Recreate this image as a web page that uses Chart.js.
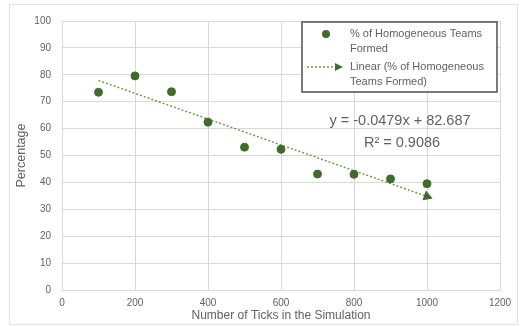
<!DOCTYPE html>
<html>
<head>
<meta charset="utf-8">
<script src="https://cdn.jsdelivr.net/npm/chart.js@4/dist/chart.umd.min.js"></script>
<style>
  html, body { margin: 0; padding: 0; background: #fff; }
  #box { position: relative; width: 520px; height: 326px; }
</style>
</head>
<body>
<div id="box"><canvas id="ticksChart" width="520" height="326"></canvas></div>
<script>
// ---- data ----
const ticks = [100, 200, 300, 400, 500, 600, 700, 800, 900, 1000];           // simulation length
const homogeneousPct = [73.5, 79.6, 73.7, 62.4, 53.1, 52.3, 43.1, 43.0, 41.3, 39.5]; // % homogeneous teams
const trendSlope = -0.0479;
const trendIntercept = 82.687;
const trendR2 = 0.9086;
const trendRange = [100, 1000];                                               // x span of the fitted line
const xTickValues = [0, 200, 400, 600, 800, 1000, 1200];
const yTickValues = [0, 10, 20, 30, 40, 50, 60, 70, 80, 90, 100];

document.addEventListener("DOMContentLoaded", function () {
  const FONT = "'Liberation Sans', Arial, sans-serif";
  const TEXT = "#616161";
  const GRID = "#d9d9d9";
  const MARKER = "#406c2b";
  const TREND = "#6fa043";

  const trendPts = trendRange.map(x => ({ x, y: trendIntercept + trendSlope * x }));

  // arrowhead at the end of the trendline should follow the line direction
  const arrowAngle = (chart) => {
    const xs = chart.scales.x, ys = chart.scales.y;
    const dx = xs.getPixelForValue(trendPts[1].x) - xs.getPixelForValue(trendPts[0].x);
    const dy = ys.getPixelForValue(trendPts[1].y) - ys.getPixelForValue(trendPts[0].y);
    return 90 + Math.atan2(dy, dx) * 180 / Math.PI;
  };

  // frame, legend box and equation label
  const extras = {
    id: "extras",
    beforeDraw(chart) {
      const c = chart.ctx;
      c.save();
      c.strokeStyle = "#e2e2e2";
      c.lineWidth = 1;
      c.strokeRect(9.5, 4.5, 508, 320);
      c.restore();
    },
    afterDraw(chart) {
      const c = chart.ctx;
      c.save();

      // equation + R²
      c.fillStyle = TEXT;
      c.font = "14.5px " + FONT;
      c.textAlign = "center";
      c.textBaseline = "middle";
      const sign = trendIntercept < 0 ? "- " : "+ ";
      c.fillText("y = " + trendSlope + "x " + sign + Math.abs(trendIntercept), 400, 121);
      c.fillText("R² = " + trendR2, 402, 143);

      // legend box
      c.fillStyle = "#fff";
      c.fillRect(302, 22, 195, 70);
      c.strokeStyle = "#5a5a5a";
      c.lineWidth = 1.6;
      c.strokeRect(302, 22, 195, 70);

      c.beginPath();
      c.arc(326, 34, 4, 0, Math.PI * 2);
      c.fillStyle = MARKER;
      c.fill();

      c.beginPath();
      c.setLineDash([2, 2]);
      c.strokeStyle = TREND;
      c.lineWidth = 1.5;
      c.moveTo(307, 67);
      c.lineTo(336, 67);
      c.stroke();
      c.setLineDash([]);
      c.beginPath();
      c.moveTo(343, 67);
      c.lineTo(335, 63);
      c.lineTo(335, 71);
      c.closePath();
      c.fillStyle = MARKER;
      c.fill();

      c.fillStyle = TEXT;
      c.font = "11px " + FONT;
      c.textAlign = "left";
      c.fillText("% of Homogeneous Teams", 350, 34);
      c.fillText("Formed", 350, 49);
      c.fillText("Linear (% of Homogeneous", 350, 67);
      c.fillText("Teams Formed)", 350, 82);
      c.restore();
    }
  };

  const ctx = document.getElementById("ticksChart").getContext("2d");
  const chart = new Chart(ctx, {
    type: "scatter",
    data: {
      datasets: [
        {
          label: "% of Homogeneous Teams Formed",
          data: ticks.map((x, i) => ({ x, y: homogeneousPct[i] })),
          backgroundColor: MARKER,
          borderColor: MARKER,
          pointRadius: 4,
          order: 1
        },
        {
          label: "Linear (% of Homogeneous Teams Formed)",
          type: "line",
          data: trendPts,
          borderColor: TREND,
          borderWidth: 1.5,
          borderDash: [2, 2],
          fill: false,
          pointStyle: "triangle",
          pointRadius: [0, 4.5],
          pointBackgroundColor: MARKER,
          pointBorderColor: MARKER,
          pointRotation: 0,
          order: 2
        }
      ]
    },
    options: {
      responsive: false,
      animation: false,
      layout: { padding: { left: 10, top: 21, right: 20, bottom: 0 } },
      plugins: { legend: { display: false }, tooltip: { enabled: false } },
      scales: {
        x: {
          type: "linear",
          min: 0, max: 1200,
          afterBuildTicks: s => { s.ticks = xTickValues.map(v => ({ value: v })); },
          afterFit: s => { s.height = 36; },
          grid: { color: GRID, drawTicks: false },
          border: { color: GRID },
          ticks: { color: TEXT, font: { family: FONT, size: 10 }, padding: 7, callback: v => String(v) },
          title: {
            display: true, text: "Number of Ticks in the Simulation",
            color: TEXT, font: { family: FONT, size: 12 }, padding: { top: 0, bottom: 3 }
          }
        },
        y: {
          min: 0, max: 100,
          afterBuildTicks: s => { s.ticks = yTickValues.map(v => ({ value: v })); },
          afterFit: s => { s.width = 52; },
          grid: { color: GRID, drawTicks: false },
          border: { color: GRID },
          ticks: { color: TEXT, font: { family: FONT, size: 10 }, padding: 11, callback: v => String(v) },
          title: {
            display: true, text: "Percentage",
            color: TEXT, font: { family: FONT, size: 12.5 }, padding: { top: 4, bottom: 0 }
          }
        }
      }
    },
    plugins: [extras]
  });

  chart.data.datasets[1].pointRotation = [0, arrowAngle(chart)];
  chart.update();
});
</script>
</body>
</html>
